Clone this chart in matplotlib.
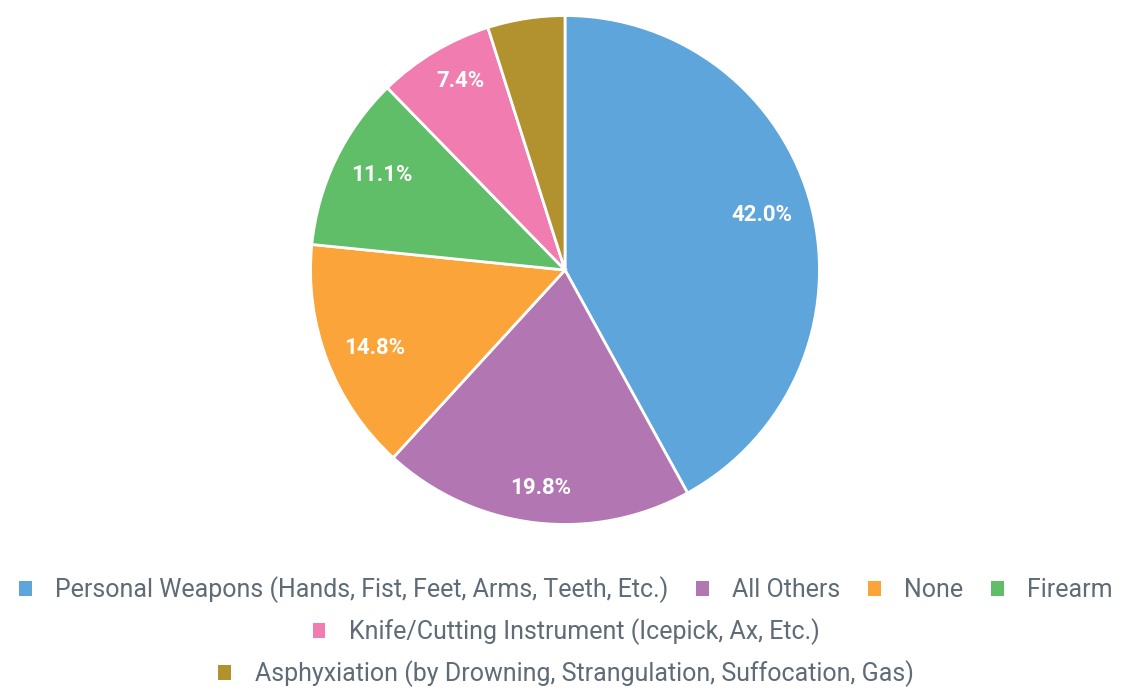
import matplotlib
matplotlib.use("Agg")
import matplotlib.pyplot as plt
from matplotlib.patches import Patch

plt.rcParams['font.family'] = ['Roboto', 'DejaVu Sans']

categories = [
    "Personal Weapons (Hands, Fist, Feet, Arms, Teeth, Etc.)",
    "All Others",
    "None",
    "Firearm",
    "Knife/Cutting Instrument (Icepick, Ax, Etc.)",
    "Asphyxiation (by Drowning, Strangulation, Suffocation, Gas)",
]
values = [42.0, 19.8, 14.8, 11.1, 7.4, 4.9]
colors = ["#5DA5DA", "#B276B2", "#FAA43A", "#60BD68", "#F17CB0", "#B2912F"]
legend_rows = [[0, 1, 2, 3], [4], [5]]

W, H = 1124, 692
fig = plt.figure(figsize=(W / 100, H / 100), dpi=100)
cx, cy, r = 565, 270, 257
ax = fig.add_axes([(cx - r) / W, (H - cy - r) / H, 2 * r / W, 2 * r / H])

wedges, texts, autotexts = ax.pie(
    values, colors=colors, startangle=90, counterclock=False,
    autopct=lambda p: f"{p:.1f}%" if p > 5 else "",
    pctdistance=0.8, radius=1,
    wedgeprops=dict(edgecolor="white", linewidth=2),
    textprops=dict(color="white", fontsize=16, fontweight="bold"),
)
for t in autotexts:
    x, y = t.get_position()
    t.set_position((x, y * 1.08))
ax.set_xlim(-1.01, 1.01)
ax.set_ylim(-1.01, 1.01)
ax.set_aspect("equal")
ax.axis("off")

text_color = "#5F6B76"
row_y = [590, 632, 674]
for row, yy in zip(legend_rows, row_y):
    handles = [Patch(facecolor=colors[i], edgecolor="none") for i in row]
    labels = [categories[i] for i in row]
    leg = fig.legend(handles, labels, loc="center", bbox_to_anchor=(566 / W, 1 - yy / H),
                     ncol=len(row), frameon=False, fontsize=18.0,
                     handlelength=0.5, handleheight=0.5, handletextpad=0.95,
                     columnspacing=1.1, borderpad=0, borderaxespad=0)
    for t in leg.get_texts():
        t.set_color(text_color)

fig.savefig("out.png", dpi=100)
